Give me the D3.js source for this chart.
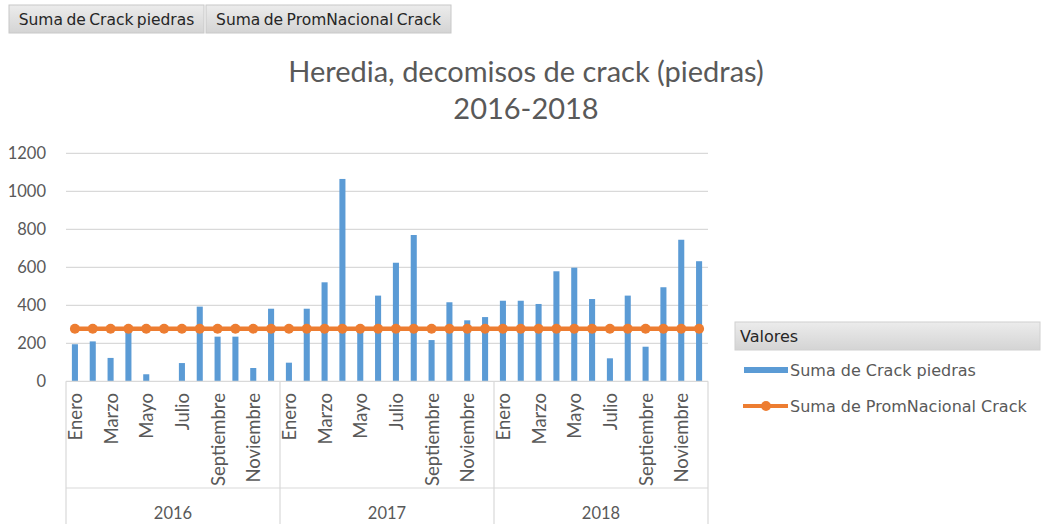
<!DOCTYPE html>
<html>
<head>
<meta charset="utf-8">
<script src="https://cdn.jsdelivr.net/npm/d3@7"></script>
<style>
  html, body { margin: 0; padding: 0; background: #fff; }
  svg { display: block; }
</style>
</head>
<body>
<svg id="chart" width="1043" height="525"></svg>
<script>
const years = ["2016", "2017", "2018"];
const months = ["Enero", "Febrero", "Marzo", "Abril", "Mayo", "Junio", "Julio", "Agosto", "Septiembre", "Octubre", "Noviembre", "Diciembre"];
const crackPiedras = [
  195, 210, 123, 265, 37, 0, 96, 393, 235, 235, 70, 382,
  98, 382, 521, 1065, 261, 451, 624, 770, 217, 416, 321, 338,
  424, 424, 407, 579, 598, 433, 121, 451, 182, 495, 745, 632
];
const promNacional = [
  277, 277, 277, 277, 277, 277, 277, 277, 277, 277, 277, 277,
  277, 277, 277, 277, 277, 277, 277, 277, 277, 277, 277, 277,
  277, 277, 277, 277, 277, 277, 277, 277, 277, 277, 277, 277
];
const yTicks = [0, 200, 400, 600, 800, 1000, 1200];
const titleLines = ["Heredia, decomisos de crack (piedras)", "2016-2018"];
const seriesNames = ["Suma de Crack piedras", "Suma de PromNacional Crack"];
const legendTitle = "Valores";

(function () {
const FONT = "Lato, 'Open Sans', sans-serif";
const UIFONT = "'DejaVu Sans', Verdana, sans-serif";
const svg = d3.select("#chart");
const pLeft = 66, pRight = 708, pTop = 153.3, pBottom = 381.3;

const rows = [];
years.forEach((yr, yi) => months.forEach((m, mi) => {
  const i = yi * 12 + mi;
  rows.push({ key: yr + "-" + mi, year: yr, month: m, mi, crack: crackPiedras[i], prom: promNacional[i] });
}));

const x = d3.scaleBand().domain(rows.map(d => d.key)).range([pLeft, pRight]).paddingInner(0.66).paddingOuter(0.33);
const y = d3.scaleLinear().domain([0, 1200]).range([pBottom, pTop]);
const cx = k => x(k) + x.bandwidth() / 2;

// top buttons
const btnG = svg.append("g");
const grad = svg.append("defs").append("linearGradient").attr("id", "btn").attr("x1", 0).attr("x2", 0).attr("y1", 0).attr("y2", 1);
grad.append("stop").attr("offset", "0%").attr("stop-color", "#ececec");
grad.append("stop").attr("offset", "100%").attr("stop-color", "#d4d4d4");
const btns = [{ t: seriesNames[0], x0: 9, x1: 204 }, { t: seriesNames[1], x0: 206, x1: 451 }];
btns.forEach(b => {
  btnG.append("rect").attr("x", b.x0).attr("y", 5).attr("width", b.x1 - b.x0).attr("height", 28)
    .attr("fill", "url(#btn)").attr("stroke", "#c8c8c8").attr("stroke-width", 1);
  btnG.append("text").attr("x", (b.x0 + b.x1) / 2).attr("y", 25).attr("text-anchor", "middle")
    .attr("font-family", UIFONT).attr("font-size", 15.5).attr("word-spacing", -1.5)
    .attr("fill", "#262626").text(b.t);
});

// title
titleLines.forEach((t, i) => {
  svg.append("text").attr("x", 526).attr("y", 82 + i * 37).attr("text-anchor", "middle")
    .attr("font-family", FONT).attr("font-size", 29).attr("fill", "#595959").text(t);
});

// gridlines
svg.append("g").selectAll("line").data(yTicks.filter(t => t > 0)).join("line")
  .attr("x1", pLeft).attr("x2", pRight).attr("y1", d => y(d)).attr("y2", d => y(d))
  .attr("stroke", "#d9d9d9").attr("stroke-width", 1.2);

// y axis labels
const yAxis = d3.axisLeft(y).tickValues(yTicks).tickFormat(d3.format("d")).tickSize(0).tickPadding(0);
const yg = svg.append("g").attr("transform", `translate(46,0)`).call(yAxis);
yg.select(".domain").remove();
yg.selectAll("text").attr("font-family", FONT).attr("font-size", 16.5).attr("fill", "#595959");

// bars
svg.append("g").selectAll("rect").data(rows).join("rect")
  .attr("x", d => x(d.key)).attr("width", x.bandwidth())
  .attr("y", d => y(d.crack)).attr("height", d => y(0) - y(d.crack))
  .attr("fill", "#5b9bd5");

// line
svg.append("path").datum(rows)
  .attr("d", d3.line().x(d => cx(d.key)).y(d => y(d.prom)))
  .attr("fill", "none").attr("stroke", "#ed7d31").attr("stroke-width", 4.5).attr("stroke-linejoin", "round");
svg.append("g").selectAll("circle").data(rows).join("circle")
  .attr("cx", d => cx(d.key)).attr("cy", d => y(d.prom)).attr("r", 5)
  .attr("fill", "#ed7d31");

// x axis: baseline and multi-level category axis
const axG = svg.append("g").attr("stroke", "#d9d9d9").attr("stroke-width", 1.2);
axG.append("line").attr("x1", pLeft).attr("x2", pRight).attr("y1", pBottom).attr("y2", pBottom);
axG.append("line").attr("x1", pLeft).attr("x2", pRight).attr("y1", 488).attr("y2", 488);
const sepX = [pLeft].concat(years.map(yr => x(yr + "-11") + x.bandwidth() + x.step() * x.paddingInner() / 2));
sepX[sepX.length - 1] = pRight;
sepX.forEach(sx => axG.append("line").attr("x1", sx).attr("x2", sx).attr("y1", pBottom).attr("y2", 524));

// month labels (every other)
svg.append("g").selectAll("text").data(rows.filter(d => d.mi % 2 === 0)).join("text")
  .attr("transform", d => `translate(${cx(d.key)},393) rotate(-90)`)
  .attr("text-anchor", "end").attr("dominant-baseline", "central")
  .attr("font-family", FONT).attr("font-size", 18.5).attr("fill", "#595959")
  .text(d => d.month);

// year labels
svg.append("g").selectAll("text").data(years).join("text")
  .attr("x", (d, i) => (sepX[i] + sepX[i + 1]) / 2).attr("y", 519).attr("text-anchor", "middle")
  .attr("font-family", FONT).attr("font-size", 16.5).attr("fill", "#595959").text(d => d);

// legend
const lg = svg.append("g");
lg.append("rect").attr("x", 735).attr("y", 322).attr("width", 305).attr("height", 28)
  .attr("fill", "url(#btn)").attr("stroke", "#d0d0d0");
lg.append("text").attr("x", 740).attr("y", 342).attr("font-family", UIFONT).attr("font-size", 16)
  .attr("fill", "#262626").text(legendTitle);
lg.append("rect").attr("x", 744).attr("y", 367).attr("width", 44).attr("height", 6).attr("fill", "#5b9bd5");
lg.append("text").attr("x", 790).attr("y", 376).attr("font-family", UIFONT).attr("font-size", 16)
  .attr("fill", "#595959").text(seriesNames[0]);
lg.append("line").attr("x1", 743).attr("x2", 788).attr("y1", 406).attr("y2", 406)
  .attr("stroke", "#ed7d31").attr("stroke-width", 4);
lg.append("circle").attr("cx", 766).attr("cy", 406).attr("r", 5).attr("fill", "#ed7d31");
lg.append("text").attr("x", 790).attr("y", 412).attr("font-family", UIFONT).attr("font-size", 16)
  .attr("fill", "#595959").text(seriesNames[1]);
})();
</script>
</body>
</html>
